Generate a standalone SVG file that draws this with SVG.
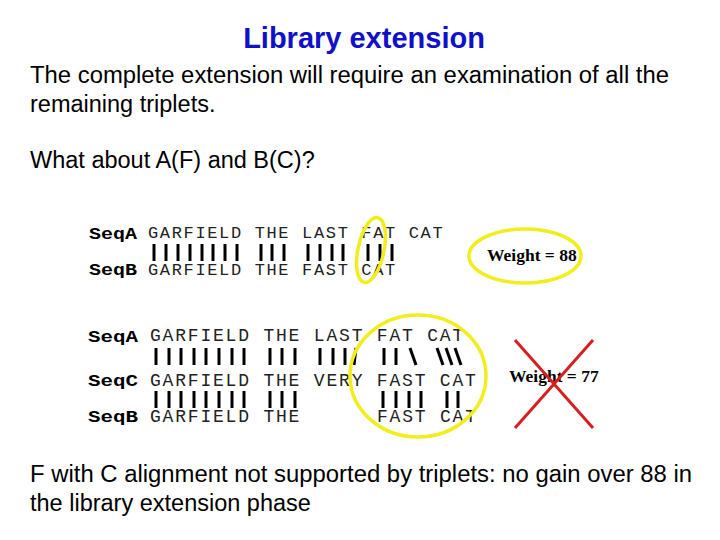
<svg xmlns="http://www.w3.org/2000/svg" width="720" height="540" viewBox="0 0 720 540">
<style>
.t{font-family:"Liberation Sans",Arial,sans-serif;font-size:23.5px;fill:#000}
.lab{font-family:"Liberation Mono",monospace;font-weight:bold;font-size:17px}
.s1{font-family:"Liberation Mono",monospace;font-size:17px;letter-spacing:1.65px;fill:#222}
.s2{font-family:"Liberation Mono",monospace;font-size:18px;letter-spacing:1.8px;fill:#222}
.w{font-family:"Liberation Serif",serif;font-weight:bold;font-size:17.5px}
.b line{stroke:#000;stroke-width:3}
.y{fill:none;stroke:#f2ee1e;stroke-width:3.5}
</style>
<rect width="720" height="540" fill="#fff"/>
<text x="364" y="48" text-anchor="middle" style="font-family:'Liberation Sans',Arial,sans-serif;font-weight:bold;font-size:29px;fill:#1010c8">Library extension</text>
<text class="t" x="30" y="83" textLength="639" lengthAdjust="spacingAndGlyphs">The complete extension will require an examination of all the</text>
<text class="t" x="30" y="112">remaining triplets.</text>
<text class="t" x="30" y="168">What about A(F) and B(C)?</text>
<g id="top">
<text class="lab" x="89" y="239" textLength="48" lengthAdjust="spacingAndGlyphs">SeqA</text>
<text class="lab" x="89" y="275" textLength="48" lengthAdjust="spacingAndGlyphs">SeqB</text>
<text class="s1" x="148" y="238">GARFIELD THE LAST FAT CAT</text>
<text class="s1" x="148" y="275">GARFIELD THE FAST CAT</text>
<g class="b">
<line x1="154" y1="244" x2="154" y2="261"/><line x1="166" y1="244" x2="166" y2="261"/><line x1="178" y1="244" x2="178" y2="261"/><line x1="190" y1="244" x2="190" y2="261"/><line x1="202" y1="244" x2="202" y2="261"/><line x1="213" y1="244" x2="213" y2="261"/><line x1="225" y1="244" x2="225" y2="261"/><line x1="237" y1="244" x2="237" y2="261"/>
<line x1="261" y1="244" x2="261" y2="261"/><line x1="272" y1="244" x2="272" y2="261"/><line x1="284" y1="244" x2="284" y2="261"/>
<line x1="308" y1="244" x2="308" y2="261"/><line x1="320" y1="244" x2="320" y2="261"/><line x1="332" y1="244" x2="332" y2="261"/><line x1="343" y1="244" x2="343" y2="261"/>
<line x1="368" y1="244" x2="368" y2="261"/><line x1="380" y1="244" x2="380" y2="261"/><line x1="392" y1="244" x2="392" y2="261"/>
</g>
<ellipse class="y" cx="371" cy="250" rx="13" ry="33" transform="rotate(12 371 250)"/>
<ellipse class="y" cx="525" cy="256" rx="56" ry="27"/>
<text class="w" x="487" y="261">Weight = 88</text>
</g>
<g id="bottom">
<text class="lab" x="88" y="342" textLength="50" lengthAdjust="spacingAndGlyphs">SeqA</text>
<text class="lab" x="88" y="386" textLength="50" lengthAdjust="spacingAndGlyphs">SeqC</text>
<text class="lab" x="88" y="422" textLength="50" lengthAdjust="spacingAndGlyphs">SeqB</text>
<text class="s2" x="150" y="341">GARFIELD THE LAST FAT CAT</text>
<text class="s2" x="150" y="386">GARFIELD THE VERY FAST CAT</text>
<text class="s2" x="150" y="422">GARFIELD THE</text>
<text class="s2" x="377" y="422">FAST CAT</text>
<g class="b">
<line x1="156" y1="348" x2="156" y2="365"/><line x1="169" y1="348" x2="169" y2="365"/><line x1="181" y1="348" x2="181" y2="365"/><line x1="194" y1="348" x2="194" y2="365"/><line x1="206" y1="348" x2="206" y2="365"/><line x1="219" y1="348" x2="219" y2="365"/><line x1="232" y1="348" x2="232" y2="365"/><line x1="244" y1="348" x2="244" y2="365"/>
<line x1="270" y1="348" x2="270" y2="365"/><line x1="282" y1="348" x2="282" y2="365"/><line x1="295" y1="348" x2="295" y2="365"/>
<line x1="320" y1="348" x2="320" y2="365"/><line x1="333" y1="348" x2="333" y2="365"/><line x1="345" y1="348" x2="345" y2="365"/><line x1="356" y1="348" x2="354" y2="365"/>
<line x1="384" y1="348" x2="384" y2="365"/><line x1="396" y1="348" x2="396" y2="365"/><line x1="410" y1="348" x2="416" y2="365"/>
<line x1="437" y1="348" x2="443" y2="365"/><line x1="446" y1="348" x2="452" y2="365"/><line x1="455" y1="348" x2="461" y2="365"/>
<line x1="156" y1="391" x2="156" y2="408"/><line x1="169" y1="391" x2="169" y2="408"/><line x1="181" y1="391" x2="181" y2="408"/><line x1="194" y1="391" x2="194" y2="408"/><line x1="206" y1="391" x2="206" y2="408"/><line x1="219" y1="391" x2="219" y2="408"/><line x1="232" y1="391" x2="232" y2="408"/><line x1="244" y1="391" x2="244" y2="408"/>
<line x1="270" y1="391" x2="270" y2="408"/><line x1="282" y1="391" x2="282" y2="408"/><line x1="295" y1="391" x2="295" y2="408"/>
<line x1="383" y1="391" x2="383" y2="408"/><line x1="396" y1="391" x2="396" y2="408"/><line x1="409" y1="391" x2="409" y2="408"/><line x1="421" y1="391" x2="421" y2="408"/>
<line x1="447" y1="391" x2="447" y2="408"/><line x1="458" y1="391" x2="458" y2="408"/>
</g>
<ellipse class="y" cx="418" cy="376" rx="68" ry="61"/>
<text class="w" x="509" y="382">Weight = 77</text>
<line x1="515" y1="340" x2="593" y2="428" stroke="#d42020" stroke-width="3"/>
<line x1="593" y1="340" x2="515" y2="428" stroke="#d42020" stroke-width="3"/>
</g>
<text class="t" x="30" y="482" textLength="662" lengthAdjust="spacingAndGlyphs">F with C alignment not supported by triplets: no gain over 88 in</text>
<text class="t" x="30" y="511">the library extension phase</text>
</svg>
